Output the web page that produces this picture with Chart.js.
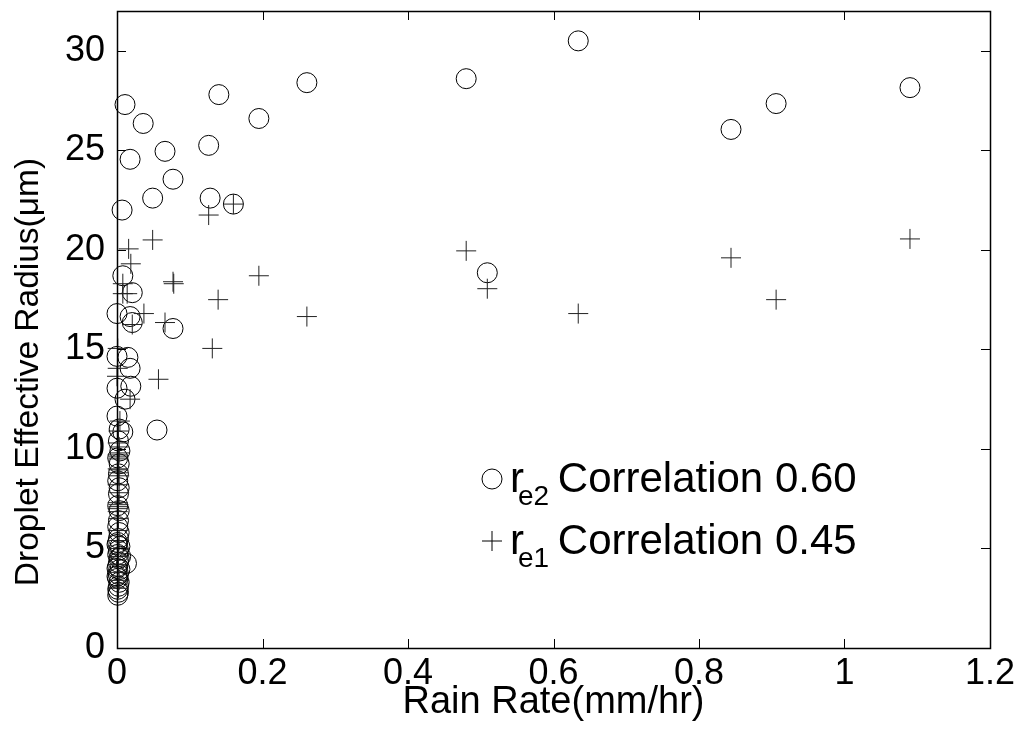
<!DOCTYPE html>
<html><head><meta charset="utf-8">
<script src="https://cdn.jsdelivr.net/npm/chart.js@4/dist/chart.umd.min.js"></script>
<style>html,body{margin:0;padding:0;background:#fff}#wrap{width:1016px;height:736px}</style>
</head><body><div id="wrap"><canvas id="c" width="1016" height="736"></canvas></div>
<script>
// r_e2 (circles): rain rate (mm/hr) and droplet effective radius (um)
const re2RainRate = [0.011,0.018,0.036,0.066,0.077,0.007,0.049,0.126,0.128,0.160,0.140,0.195,0.261,0.480,0.634,0.844,0.906,1.090,0.509,0.077,0.055,
  0.008,0.021,0.000,0.018,0.021,0.000,0.015,0.018,0.000,0.019,0.011,0.000,0.003,0.008,
  0.002,0.004,0.001,0.003,0.002,0.001,0.003,0.002,0.001,0.003,0.002,0.001,0.003,0.002,0.001,0.004,0.002,0.001,0.003,0.002,0.001,0.004,0.002,0.001,0.003,0.002,0.001,0.002,0.001,0.000,0.000,0.005,0.000,0.013];
const re2Radius = [27.3,24.55,26.35,24.95,23.55,22.0,22.6,25.25,22.6,22.3,27.8,26.6,28.4,28.6,30.5,26.05,27.35,28.15,18.85,16.05,10.95,
  18.7,17.85,16.8,16.65,16.35,14.65,14.6,14.05,13.05,13.15,12.5,11.65,11.0,10.85,
  10.4,9.9,9.55,9.25,8.75,8.4,8.05,7.75,7.15,6.9,6.4,6.1,5.8,5.5,5.3,5.1,4.9,4.7,4.5,4.3,4.1,3.95,3.7,3.5,3.3,3.1,2.95,2.8,2.65,4.0,3.6,4.6,5.2,4.25];

// r_e1 (plus signs)
const re1RainRate = [0.016,0.019,0.049,0.126,0.160,0.077,0.078,0.195,0.139,0.261,0.480,0.509,0.634,0.844,0.906,1.090,0.131,0.057,0.066,0.037,
  0.008,0.008,0.014,0.021,0.001,0.001,0.000,0.018,0.004,
  0.002,0.001,0.003,0.002,0.001,0.002,0.001,0.003,0.002,0.001,0.002,0.001,0.003,0.002,0.001,0.002,0.001,0.003,0.002,
  0.002,0.001,0.003,0.002,0.001,0.002,0.001,0.003];
const re1Radius = [20.05,19.3,20.5,21.75,22.3,18.4,18.3,18.7,17.5,16.65,19.95,18.05,16.8,19.6,17.5,20.55,15.05,13.5,16.35,16.8,
  18.3,17.8,17.8,16.25,15.05,14.05,13.65,12.5,11.4,
  10.9,10.3,9.8,9.6,9.0,8.8,8.2,7.8,7.2,7.0,6.5,5.9,5.4,5.0,4.6,4.2,3.8,3.4,3.0,
  9.5,9.7,8.65,8.95,6.85,7.1,7.3,10.1];

const xTickLabels = ['0','0.2','0.4','0.6','0.8','1','1.2'];
const yTickLabels = ['0','5','10','15','20','25','30'];
const xTitle = 'Rain Rate(mm/hr)';
const yTitle = 'Droplet Effective Radius(\u03bcm)';
const legendSub = ['e2','e1'];
const legendText = ['Correlation 0.60','Correlation 0.45'];

const FONT = "'Liberation Sans', Arial, sans-serif";

const toPts = (xs, ys) => xs.map((x, i) => ({x, y: ys[i]}));

const frame = {
  id: 'frame',
  afterDraw(chart) {
    const {ctx, chartArea: a, scales: {x, y}} = chart;
    ctx.save();
    ctx.strokeStyle = '#000';
    ctx.lineWidth = 1;
    const L = 9;
    ctx.beginPath();
    x.ticks.forEach(t => {
      const px = Math.round(x.getPixelForValue(t.value)) + 0.5;
      ctx.moveTo(px, a.bottom); ctx.lineTo(px, a.bottom - L);
      ctx.moveTo(px, a.top); ctx.lineTo(px, a.top + L);
    });
    y.ticks.forEach(t => {
      const py = Math.round(y.getPixelForValue(t.value)) + 0.5;
      ctx.moveTo(a.left, py); ctx.lineTo(a.left + L, py);
      ctx.moveTo(a.right, py); ctx.lineTo(a.right - L, py);
    });
    ctx.stroke();
    ctx.lineWidth = 1.5;
    ctx.strokeRect(Math.round(a.left) + 0.5, Math.round(a.top) + 0.5, Math.round(a.right - a.left), Math.round(a.bottom - a.top));

    // y axis title
    ctx.save();
    ctx.translate(29, 372);
    ctx.rotate(-Math.PI / 2);
    ctx.fillStyle = '#000';
    ctx.font = '33.5px ' + FONT;
    ctx.textAlign = 'center';
    ctx.textBaseline = 'middle';
    ctx.fillText(yTitle, 0, 0);
    ctx.restore();

    // legend
    const rows = [479, 541];
    rows.forEach((cy, i) => {
      ctx.strokeStyle = '#000';
      ctx.lineWidth = 1;
      ctx.beginPath();
      if (i === 0) { ctx.arc(492, cy, 10, 0, Math.PI * 2); }
      else { ctx.moveTo(482, cy); ctx.lineTo(502, cy); ctx.moveTo(492, cy - 10); ctx.lineTo(492, cy + 10); }
      ctx.stroke();
      ctx.fillStyle = '#000';
      ctx.textBaseline = 'alphabetic';
      ctx.textAlign = 'left';
      const base = cy + 13;
      ctx.font = '42px ' + FONT;
      ctx.fillText('r', 510, base);
      const rw = ctx.measureText('r').width;
      ctx.font = '28px ' + FONT;
      const sx = 510 + rw - 6;
      ctx.fillText(legendSub[i], sx, base + 13);
      const sw = ctx.measureText(legendSub[i]).width;
      ctx.font = '42px ' + FONT;
      ctx.fillText(' ' + legendText[i], sx + sw - 3, base);
    });
    ctx.restore();
  }
};

new Chart(document.getElementById('c'), {
  type: 'scatter',
  data: {
    datasets: [
      { label: 'r_e2 Correlation 0.60', data: toPts(re2RainRate, re2Radius), pointStyle: 'circle', pointRadius: 10, pointHoverRadius: 10,
        borderColor: '#000', backgroundColor: 'rgba(0,0,0,0)', borderWidth: 1, pointBorderWidth: 1, clip: false, order: 2 },
      { label: 'r_e1 Correlation 0.45', data: toPts(re1RainRate, re1Radius), pointStyle: 'cross', pointRadius: 10, pointHoverRadius: 10,
        borderColor: '#222', backgroundColor: 'rgba(0,0,0,0)', borderWidth: 1, pointBorderWidth: 1, clip: false, order: 1 }
    ]
  },
  options: {
    responsive: false, animation: false, devicePixelRatio: 1,
    layout: { padding: { top: 8, right: 26, left: 0, bottom: 0 } },
    plugins: { legend: { display: false }, tooltip: { enabled: false } },
    scales: {
      x: {
        type: 'linear', min: 0, max: 1.2,
        afterFit: s => { s.height = 88; s.paddingLeft = 0; s.paddingRight = 0; },
        grid: { display: false, drawTicks: false }, border: { display: false },
        ticks: { stepSize: 0.2, color: '#000', padding: 4, maxRotation: 0, font: { family: FONT, size: 36 },
                 callback: (v, i) => xTickLabels[i] },
        title: { display: true, text: xTitle, color: '#000', font: { family: FONT, size: 38 }, padding: { top: 0, bottom: 11 } }
      },
      y: {
        type: 'linear', min: 0, max: 32,
        afterFit: s => { s.width = 117; s.paddingTop = 0; s.paddingBottom = 0; },
        grid: { display: false, drawTicks: false }, border: { display: false },
        ticks: { stepSize: 5, includeBounds: false, color: '#000', padding: 12, font: { family: FONT, size: 36 },
                 callback: (v, i) => yTickLabels[i] },
        title: { display: false, text: yTitle }
      }
    }
  },
  plugins: [frame]
});
</script></body></html>
